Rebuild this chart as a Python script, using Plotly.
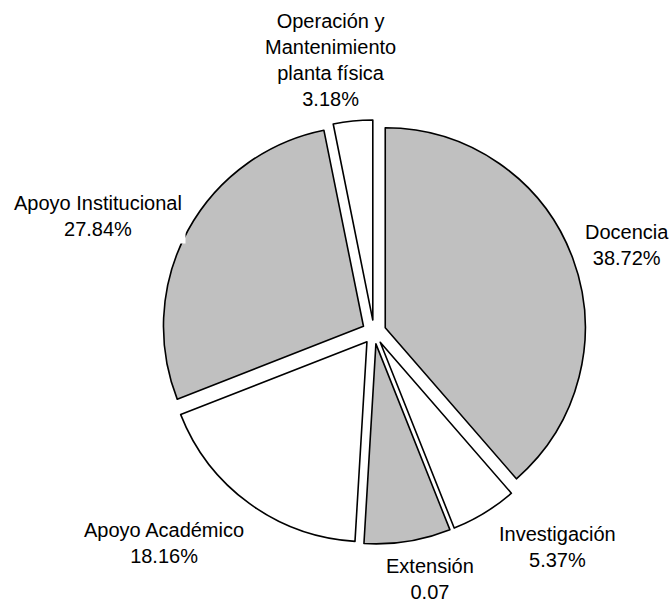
import plotly.graph_objects as go

# Budget distribution by programme
categories = [
    "Docencia",
    "Investigación",
    "Extensión",
    "Apoyo Académico",
    "Apoyo Institucional",
    "Operación y<br>Mantenimiento<br>planta física",
]
shares = [0.3872, 0.0537, 0.07, 0.1816, 0.2784, 0.0318]
share_text = ["38.72%", "5.37%", "0.07", "18.16%", "27.84%", "3.18%"]
fills = ["#C0C0C0", "#FFFFFF", "#C0C0C0", "#FFFFFF", "#C0C0C0", "#FFFFFF"]

W, H = 672, 603
M = dict(l=162, r=86, t=120, b=59)
PW = W - M["l"] - M["r"]
PH = H - M["t"] - M["b"]


def to_paper(px, py):
    return (px - M["l"]) / PW, 1 - (py - M["t"]) / PH


# label block centres (pixels)
label_pos = [
    (627, 245),
    (557, 547),
    (430, 579),
    (164, 543),
    (98, 216),
    (330, 60),
]

fig = go.Figure(
    go.Pie(
        labels=categories,
        values=shares,
        sort=False,
        direction="clockwise",
        rotation=0,
        pull=[0.06] * len(shares),
        marker=dict(colors=fills, line=dict(color="#000000", width=1.6)),
        textinfo="none",
        hoverinfo="label+percent",
        showlegend=False,
    )
)

annotations = []
for name, txt, (px, py) in zip(categories, share_text, label_pos):
    x, y = to_paper(px, py)
    annotations.append(
        dict(
            x=x,
            y=y,
            xref="paper",
            yref="paper",
            text=f"{name}<br>{txt}",
            showarrow=False,
            xanchor="center",
            yanchor="middle",
            align="center",
            bgcolor="#FFFFFF",
            borderpad=3,
            font=dict(family="Arial, Liberation Sans, sans-serif", size=20, color="#000000"),
        )
    )

fig.update_layout(
    width=W,
    height=H,
    margin=M,
    paper_bgcolor="#FFFFFF",
    plot_bgcolor="#FFFFFF",
    annotations=annotations,
)

fig.write_html("out.html")
